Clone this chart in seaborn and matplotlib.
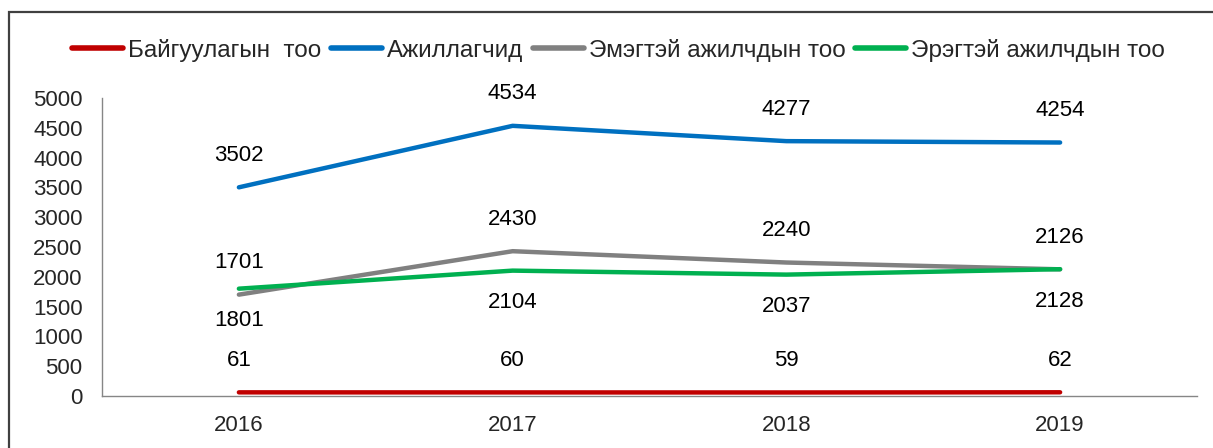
import pandas as pd
import matplotlib
matplotlib.use("Agg")
import matplotlib.pyplot as plt
import seaborn as sns
from matplotlib.patches import Rectangle

# Data
years = ["2016", "2017", "2018", "2019"]
series_names = ["Байгуулагын  тоо", "Ажиллагчид", "Эмэгтэй ажилчдын тоо", "Эрэгтэй ажилчдын тоо"]
orgs = [61, 60, 59, 62]
workers = [3502, 4534, 4277, 4254]
female = [1701, 2430, 2240, 2126]
male = [1801, 2104, 2037, 2128]
colors = ["#C00000", "#0070C0", "#808080", "#00B050"]
label_side = ["above", "above", "above", "below"]

rows = []
for name, vals in zip(series_names, [orgs, workers, female, male]):
    for y, v in zip(years, vals):
        rows.append({"year": y, "value": v, "series": name})
df = pd.DataFrame(rows)

sns.set_style("white")
plt.rcParams["font.family"] = ["Liberation Sans", "DejaVu Sans"]
fs = 16

fig = plt.figure(figsize=(12.13, 4.48), dpi=100)
ax = fig.add_axes([0.0841, 0.1161, 0.9027, 0.665])

sns.lineplot(data=df, x="year", y="value", hue="series", hue_order=series_names,
             palette=colors, linewidth=3.2, solid_capstyle="round", ax=ax, legend=True)

# data labels
for name, side in zip(series_names, label_side):
    sub = df[df["series"] == name]
    for i, v in enumerate(sub["value"]):
        dy = 23 if side == "above" else -23
        ax.annotate(str(v), (i, v), xytext=(0, dy), textcoords="offset points",
                    ha="center", va="center", fontsize=fs, color="#000000")

ax.set_xlim(-0.5, 3.5)
ax.set_ylim(0, 5000)
ax.set_yticks(range(0, 5001, 500))
ax.set_xticks(range(4))
ax.set_xticklabels(years)
ax.set_xticks([-0.5, 0.5, 1.5, 2.5, 3.5], minor=True)
ax.tick_params(axis="x", which="major", length=0, pad=14, labelsize=fs)
ax.tick_params(axis="x", which="minor", length=6, color="#868686", width=1, direction="out")
ax.tick_params(axis="y", length=6, color="#868686", width=1, direction="out", labelsize=fs, pad=8)
ax.set_xlabel("")
ax.set_ylabel("")
for s in ["top", "right"]:
    ax.spines[s].set_visible(False)
for s in ["left", "bottom"]:
    ax.spines[s].set_color("#868686")
    ax.spines[s].set_linewidth(1)

handles, labels = ax.get_legend_handles_labels()
ax.legend_.remove()
leg = fig.legend(handles, labels, loc="center", bbox_to_anchor=(0.51, 0.888), ncol=4,
                 frameon=False, fontsize=17.5, handlelength=2.1, handletextpad=0.2,
                 columnspacing=0.4)
for h in leg.legend_handles:
    h.set_linewidth(4)

# outer chart frame
fig.patches.append(Rectangle((0.0074, -0.02), 1.0, 0.993, transform=fig.transFigure,
                             fill=False, edgecolor="#404040", linewidth=1.6))

fig.savefig("out.png", dpi=100)
